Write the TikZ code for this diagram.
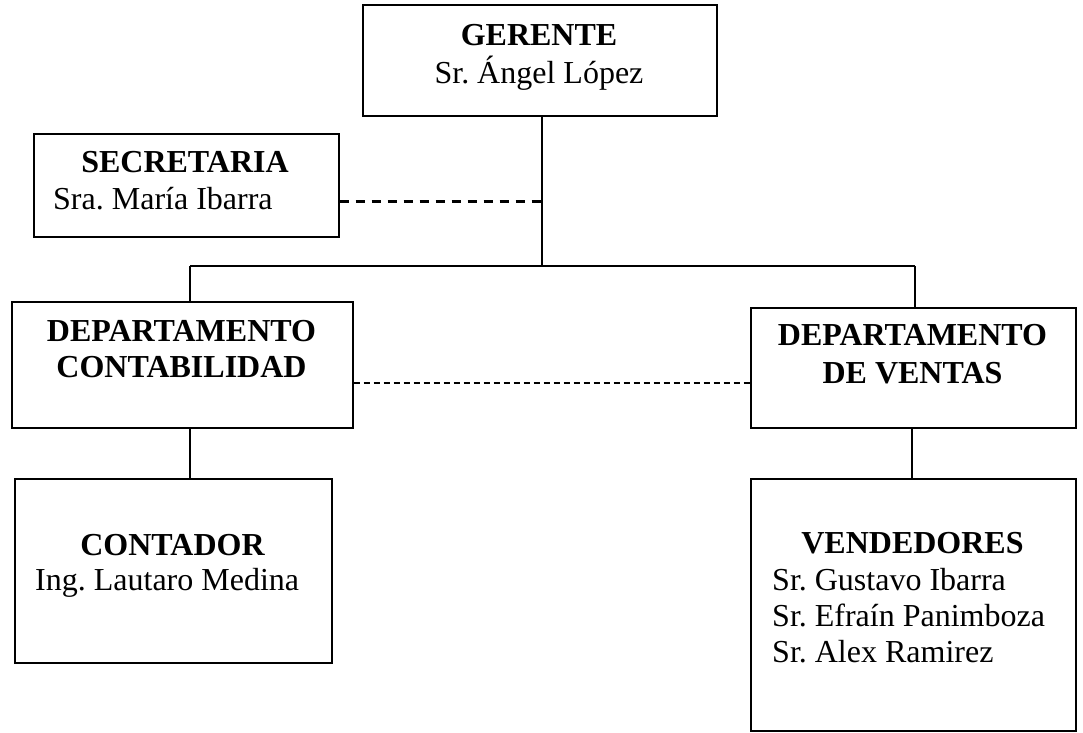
\documentclass[tikz,border=0pt]{standalone}
\usepackage{fontspec}
\setmainfont{Liberation Serif}
\frenchspacing
\begin{document}
\begin{tikzpicture}[x=1pt,y=-1pt,
  orgbox/.style={draw=black,line width=1.7pt,anchor=north west,inner sep=0pt},
  txt/.style={font=\fontsize{32}{36}\selectfont,inner sep=0pt},
  head/.style={txt,font=\fontsize{32}{36}\selectfont\bfseries,anchor=base},
  names/.style={txt,anchor=base west,align=left},
  link/.style={line width=1.4pt},
  staffdash/.style={line width=3pt,dash pattern=on 9pt off 7pt},
  deptdash/.style={line width=1.7pt,dash pattern=on 6pt off 4pt}]
\useasboundingbox (0,0) rectangle (1083,732);
% boxes
\node[orgbox,minimum width=354pt,minimum height=111pt] (ger) at (362,4) {};
\node[orgbox,minimum width=305pt,minimum height=103pt] (sec) at (33,133) {};
\node[orgbox,minimum width=341pt,minimum height=126pt] (cont) at (11,301) {};
\node[orgbox,minimum width=325pt,minimum height=120pt] (vent) at (750,307) {};
\node[orgbox,minimum width=317pt,minimum height=184pt] (ctd) at (14,478) {};
\node[orgbox,minimum width=325pt,minimum height=252pt] (vnd) at (750,478) {};
% texts
\node[head] (gerT) at (539,45) {GERENTE};
\node[txt,anchor=base] (gerN) at (539,83) {Sr. Ángel López};
\node[head] (secT) at (185,172) {SECRETARIA};
\node[names] (secN) at (53,209) {Sra. María Ibarra};
\node[head] (contT) at (181.5,341) {DEPARTAMENTO};
\node[head] (contT2) at (181.5,377) {CONTABILIDAD};
\node[head] (ventT) at (912.5,345) {DEPARTAMENTO};
\node[head] (ventT2) at (912.5,383) {DE VENTAS};
\node[head] (ctdT) at (172.5,555) {CONTADOR};
\node[names] (ctdN) at (35,590) {Ing. Lautaro Medina};
\node[head] (vndT) at (912.5,553) {VENDEDORES};
% the base anchor of a multi-line node sits on its last line
\node[names] (vndN) at (772,662) {Sr. Gustavo Ibarra\\Sr. Efraín Panimboza\\Sr. Alex Ramirez};
% connectors
\coordinate (trunk) at (542,266);
\coordinate (secjoin) at (542,201);
\coordinate (lft) at (190,266);
\coordinate (rgt) at (915,266);
\draw[link] (ger.south -| trunk) -- (trunk);
\draw[link] (lft) -- (rgt);
\draw[link] (lft) -- (lft |- cont.north);
\draw[link] (rgt) -- (rgt |- vent.north);
\draw[staffdash] (sec.east |- secjoin) -- (secjoin);
\draw[deptdash] (cont.east |- 0,383) -- (vent.west |- 0,383);
\draw[link] (cont.south -| lft) -- (ctd.north -| lft);
\draw[link] (vent.south -| 912,0) -- (vnd.north -| 912,0);
\end{tikzpicture}
\end{document}
